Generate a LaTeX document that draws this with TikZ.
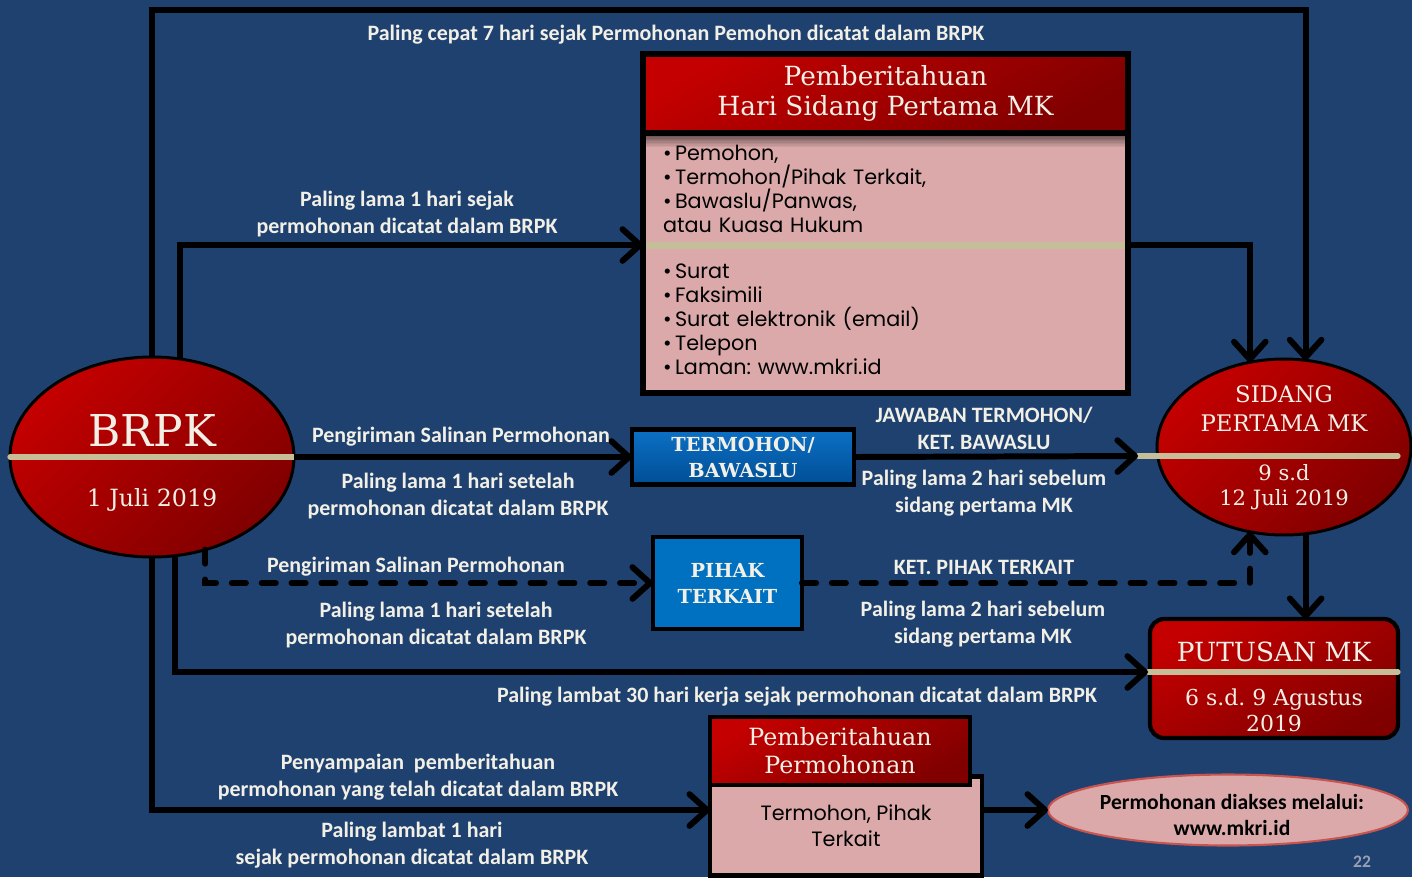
\documentclass[tikz,border=0pt]{standalone}
\usepackage{fontspec}
\newfontfamily\headfont{DejaVu Serif}
\newfontfamily\listfont{Poppins}
\newfontfamily\notefont{Carlito}
\usetikzlibrary{shapes.geometric,arrows.meta,calc}
\frenchspacing

\definecolor{slideblue}{RGB}{31,65,112}
\definecolor{notetext}{RGB}{242,240,230}
\definecolor{tanline}{RGB}{198,190,152}
\definecolor{pinkbody}{RGB}{219,169,169}
\definecolor{redtop}{RGB}{196,0,0}
\definecolor{redbot}{RGB}{128,0,0}
\definecolor{bluetop}{RGB}{12,112,196}
\definecolor{bluebot}{RGB}{0,78,150}
\definecolor{blueflat}{RGB}{0,112,192}
\definecolor{accessline}{RGB}{200,84,80}
\definecolor{pagegray}{RGB}{150,160,178}

\tikzset{
  flow/.style={line width=3.4pt, -{Straight Barb[length=10pt,width=18pt,round]}},
  dashflow/.style={flow, dash pattern=on 8pt off 9pt, line cap=round},
  divider/.style={draw=tanline, line width=3pt, line cap=round},
  note/.style={font=\notefont\bfseries\fontsize{12.5}{15.3}\selectfont, text=notetext, align=center},
  headtext/.style 2 args={font=\headfont\fontsize{#1}{#2}\selectfont, text=notetext, align=center},
  redoval/.style={ellipse, draw=black, line width=1.7pt, top color=redtop, bottom color=redbot, shading angle=45, inner sep=0pt, outer sep=0pt},
  redbox/.style={rectangle, draw=black, line width=2.4pt, top color=redtop, bottom color=redbot, shading angle=30, inner sep=0pt, outer sep=0pt},
  pinkbox/.style={rectangle, fill=pinkbody, inner sep=0pt, outer sep=0pt},
  bluebox/.style={rectangle, draw=black, line width=2.8pt, inner sep=0pt, outer sep=0pt, text=notetext, align=center,
    font=\headfont\bfseries\fontsize{11}{14.8}\selectfont},
  headshadow/.style={path picture={
    \foreach \i in {0,...,9}{
      \pgfmathtruncatemacro\pct{60-6*\i}
      \fill[black!\pct!pinkbody] ([yshift=-0.8*\i pt]path picture bounding box.north west)
        rectangle ([yshift=-0.8*\i pt-0.85pt]path picture bounding box.north east);
    }}},
}

\begin{document}
\begin{tikzpicture}[x=0.02cm, y=-0.02cm]
\fill[slideblue] (0,0) rectangle (1412,877);
\useasboundingbox (0,0) rectangle (1412,877);

% ellipses and boxes
\node[redoval, minimum width=5.68cm, minimum height=4cm] (brpk) at (152,457) {};
\node[redoval, minimum width=5.08cm, minimum height=3.52cm] (sidang) at (1284,447) {};
\node[redbox, rounded corners=8pt, minimum width=4.96cm, minimum height=2.38cm] (putusan) at (1274,678.5) {};
\node[bluebox, top color=bluetop, bottom color=bluebot, minimum width=4.44cm, minimum height=1.1cm] (termohon) at (743,457) {TERMOHON/\\BAWASLU};
\node[bluebox, fill=blueflat, minimum width=2.98cm, minimum height=1.84cm] (pihak) at (727.5,583) {PIHAK\\TERKAIT};

% pemberitahuan hari sidang
\node[pinkbox, headshadow, minimum width=9.7cm, minimum height=2.24cm, text width=8.9cm, align=left,
  font=\listfont\fontsize{11.8}{13.66}\selectfont] (hsp-who) at (885.5,189)
  {\textbullet\,Pemohon,\\ \textbullet\,Termohon/Pihak Terkait,\\ \textbullet\,Bawaslu/Panwas,\\ atau Kuasa Hukum};
\node[pinkbox, minimum width=9.7cm, minimum height=2.96cm, text width=8.9cm, align=left,
  font=\listfont\fontsize{11.8}{13.66}\selectfont] (hsp-how) at (885.5,319)
  {\textbullet\,Surat\\ \textbullet\,Faksimili\\ \textbullet\,Surat elektronik (email)\\ \textbullet\,Telepon\\ \textbullet\,Laman: www.mkri.id};
\draw[divider, line width=4pt, line cap=butt] (hsp-how.north west) -- (hsp-how.north east);
\draw[line width=3.2pt] (hsp-who.north west) rectangle (hsp-how.south east);
\node[redbox, line width=3.2pt, minimum width=9.7cm, minimum height=1.58cm, headtext={15}{17}] (hsp-head) at (885.5,93.5)
  {Pemberitahuan\\Hari Sidang Pertama MK};

% pemberitahuan permohonan
\node[pinkbox, draw=black, line width=2.6pt, minimum width=5.44cm, minimum height=1.98cm, align=center,
  font=\listfont\fontsize{11.8}{14.8}\selectfont] (perm-body) at (846,826) {Termohon, Pihak\\Terkait};
\node[redbox, line width=2.6pt, minimum width=5.2cm, minimum height=1.36cm, headtext={13.5}{16}] (perm-head) at (840,751)
  {Pemberitahuan\\Permohonan};
\node[ellipse, draw=accessline, line width=1.2pt, fill=pinkbody, minimum width=7.2cm, minimum height=1.42cm,
  inner sep=0pt, outer sep=0pt] (access) at (1228,810) {};
\node[align=center, font=\notefont\bfseries\fontsize{12.3}{15.3}\selectfont] (access-text) at (1232,815)
  {Permohonan diakses melalui:\\www.mkri.id};

% texts in the ellipses
\node[headtext={25}{30}] (brpk-title) at (152,430) {BRPK};
\node[headtext={13.5}{16}] (brpk-date) at (152,500) {1 Juli 2019};
\node[headtext={13}{16.5}] (sidang-title) at (1284,409) {SIDANG\\PERTAMA MK};
\node[headtext={12}{14.2}] (sidang-date) at (1284,487) {9 s.d\\12 Juli 2019};
\node[headtext={15}{18}] (putusan-title) at (1274,652) {PUTUSAN MK};
\node[headtext={12.5}{14.8}] (putusan-date) at (1274,710) {6 s.d. 9 Agustus\\2019};

% dividers
\coordinate (sidang-w) at (1138,456);
\coordinate (sidang-e) at (1398,456);
\coordinate (putusan-w) at (1148,672);
\coordinate (putusan-e) at (1398,672);
\draw[divider] (brpk.west) -- (brpk.east);
\draw[divider] (sidang-w) -- (sidang-e);
\draw[divider] (putusan-w) -- (putusan-e);

% connectors
\draw[flow] (brpk.north) -- ++(0,-347) -| (sidang.76);
\draw[flow] (brpk.74) |- (hsp-how.north west);
\draw[flow] (hsp-how.north east) -| (sidang.112);
\draw[flow] (brpk.east) -- (termohon.west);
\draw[flow] (termohon.east) -- (sidang-w);
\draw[dashflow] (brpk.-60) |- (pihak.west);
\draw[dashflow] (pihak.east) -| (sidang.-112);
\draw[flow] (sidang.-76) -- (sidang.-76 |- putusan.north);
\draw[flow] (brpk.-77) |- (putusan-w);
\draw[flow] (brpk.south) |- (perm-body.west |- access.west);
\draw[flow] (perm-body.east |- access.west) -- (access.west);

% labels
\node[note] (n-top) at (676,35) {Paling cepat 7 hari sejak Permohonan Pemohon dicatat dalam BRPK};
\node[note] (n-hsp) at (407,214) {Paling lama 1 hari sejak\\permohonan dicatat dalam BRPK};
\node[note] (n-kirim1) at (461,437) {Pengiriman Salinan Permohonan};
\node[note] (n-lama1) at (458,496) {Paling lama 1 hari setelah\\permohonan dicatat dalam BRPK};
\node[note] (n-jawab) at (984,428) {JAWABAN TERMOHON/\\KET. BAWASLU};
\node[note] (n-lama2) at (984,493) {Paling lama 2 hari sebelum\\sidang pertama MK};
\node[note] (n-kirim2) at (416,567) {Pengiriman Salinan Permohonan};
\node[note] (n-lama3) at (436,625) {Paling lama 1 hari setelah\\permohonan dicatat dalam BRPK};
\node[note] (n-ket) at (984,567) {KET. PIHAK TERKAIT};
\node[note] (n-lama4) at (983,624) {Paling lama 2 hari sebelum\\sidang pertama MK};
\node[note] (n-putus) at (797,697) {Paling lambat 30 hari kerja sejak permohonan dicatat dalam BRPK};
\node[note] (n-sampai) at (418,777) {Penyampaian\ \ pemberitahuan\\permohonan yang telah dicatat dalam BRPK};
\node[note] (n-lambat) at (412,845) {Paling lambat 1 hari\\sejak permohonan dicatat dalam BRPK};
\node[note, text=pagegray, font=\notefont\bfseries\fontsize{10}{12}\selectfont] (page) at (1362,862) {22};
\end{tikzpicture}
\end{document}
